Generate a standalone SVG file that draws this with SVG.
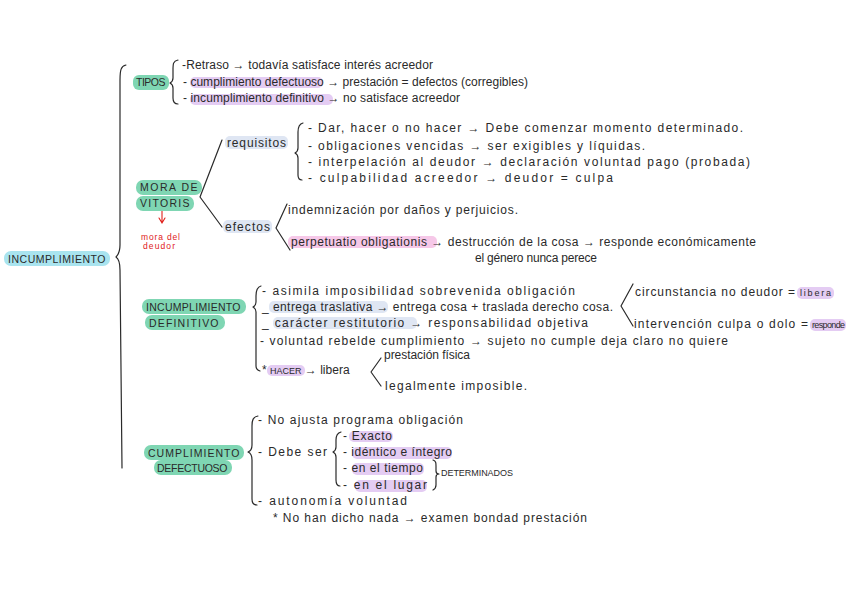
<svg xmlns="http://www.w3.org/2000/svg" width="848" height="599" viewBox="0 0 848 599">
<style>
text{font-family:"Liberation Sans",Arial,sans-serif;font-size:12px;fill:#2a2a2a}
.cap{font-size:10.5px;letter-spacing:0.5px}
.sm{font-size:9px}
.red{fill:#e0201b;font-size:8.5px}
.hg{fill:#7fd6b3}
.hc{fill:#a9e4ef}
.hp{fill:#e4ccf3}
.hk{fill:#f6c8e8}
.hb{fill:#dfe6f3}
.ln{fill:none;stroke:#2a2a2a;stroke-width:1.2;stroke-linecap:round;stroke-linejoin:round}
</style>
<rect width="848" height="599" fill="#ffffff"/>
<g id="connectors">
<path class="ln" d="M126,65 C121,66 120,70 120,80 L120,245 C120,251 119,254 116,257 C119,259 120,262 120,270 L122,468"/>
<path class="ln" d="M178,60 C173,61 173,64 173,70 L173,78 C173,81 172,82 170,83 C172,84 173,85 173,88 L173,98 C173,102 174,104 178,104"/>
<path class="ln" d="M222,140 L200,197 L222,227"/>
<path class="ln" d="M303,123 C299,124 298,127 298,132 L298,148 C298,151 297,152 295,153 C297,154 298,155 298,158 L298,175 C298,178 299,180 302,180"/>
<path class="ln" d="M287,204 L276,228 L290,250"/>
<path class="ln" d="M261,286 C257,287 256,290 256,296 L256,302 C256,305 255,306 253,307 C255,308 256,309 256,312 L256,366 C256,369 257,370 260,371"/>
<path class="ln" d="M633,284 L621,306 L633,326"/>
<path class="ln" d="M381,358 L371,372 L381,386"/>
<path class="ln" d="M258,416 C253,417 252,420 252,426 L252,445 C252,449 251,451 248,452 C251,453 252,455 252,460 L252,499 C252,503 253,505 257,505"/>
<path class="ln" d="M341,432 C337,433 336,436 336,440 L336,447 C336,450 335,451 333,452 C335,453 336,454 336,457 L336,480 C336,484 337,486 340,486"/>
<path class="ln" d="M433,460 C436,461 436,463 436,466 L436,471 C436,473 437,474 439,474 C437,474 436,475 436,477 L436,485 C436,488 435,489 433,490"/>
<path d="M162,211 L162,222 M159,218 L162,223 L165,218" fill="none" stroke="#e0201b" stroke-width="1.1" stroke-linecap="round"/>
</g>
<g id="incumplimiento">
<rect class="hc" x="4" y="251" width="106" height="15" rx="7"/>
<text class="cap" x="8" y="263" textLength="98">INCUMPLIMIENTO</text>
</g>
<g id="tipos">
<rect class="hg" x="133" y="75" width="36" height="15" rx="6"/>
<text class="cap" x="136" y="86" textLength="30">TIPOS</text>
<text x="182" y="69" textLength="251">-Retraso → todavía satisface interés acreedor</text>
<rect class="hp" x="190" y="77" width="133" height="11" rx="5"/>
<text x="183" y="86" textLength="345">- cumplimiento defectuoso → prestación = defectos  (corregibles)</text>
<rect class="hp" x="190" y="94" width="143" height="11" rx="5"/>
<text x="183" y="102" textLength="277">- incumplimiento definitivo → no satisface acreedor</text>
</g>
<g id="mora">
<rect class="hg" x="136" y="180" width="66" height="15" rx="7"/>
<rect class="hg" x="136" y="196" width="58" height="15" rx="7"/>
<text class="cap" x="140" y="191" textLength="58">MORA DE</text>
<text class="cap" x="140" y="207" textLength="50">VITORIS</text>
<text class="red" x="141" y="240" textLength="39">mora del</text>
<text class="red" x="143" y="249" textLength="32">deudor</text>
</g>
<g id="requisitos">
<rect class="hb" x="225" y="136" width="63" height="13" rx="5"/>
<text x="227" y="147" textLength="59">requisitos</text>
<text x="308" y="132" textLength="435">- Dar, hacer o no hacer → Debe comenzar momento determinado.</text>
<text x="308" y="150" textLength="337">- obligaciones vencidas → ser exigibles y líquidas.</text>
<text x="308" y="166" textLength="442">- interpelación al deudor → declaración voluntad pago  (probada)</text>
<text x="308" y="182" textLength="305">- culpabilidad acreedor → deudor = culpa</text>
</g>
<g id="efectos">
<rect class="hb" x="223" y="220" width="49" height="13" rx="5"/>
<text x="225" y="231" textLength="45">efectos</text>
<text x="288" y="214" textLength="230">indemnización por daños y perjuicios.</text>
<rect class="hk" x="288" y="236" width="149" height="12" rx="5"/>
<text x="291" y="246" textLength="465">perpetuatio obligationis → destrucción de la cosa → responde económicamente</text>
<text x="475" y="262" textLength="122">el género nunca perece</text>
</g>
<g id="incumplimiento-definitivo">
<rect class="hg" x="142" y="299" width="104" height="15" rx="7"/>
<rect class="hg" x="145" y="315" width="80" height="15" rx="7"/>
<text class="cap" x="146" y="311" textLength="95">INCUMPLIMIENTO</text>
<text class="cap" x="149" y="327" textLength="70">DEFINITIVO</text>
<text x="262" y="295" textLength="313">- asimila imposibilidad sobrevenida obligación</text>
<rect class="hb" x="269" y="301" width="119" height="12" rx="5"/>
<text x="262" y="311" textLength="351">_ entrega traslativa → entrega cosa + traslada derecho cosa.</text>
<rect class="hb" x="273" y="317" width="144" height="12" rx="5"/>
<text x="262" y="327" textLength="326">_  carácter restitutorio → responsabilidad objetiva</text>
<text x="260" y="345" textLength="468">- voluntad rebelde cumplimiento → sujeto no cumple deja claro no quiere</text>
<rect class="hp" x="267" y="365" width="38" height="11" rx="5"/>
<text x="262" y="374"><tspan>* </tspan><tspan class="sm">HACER</tspan><tspan> → libera</tspan></text>
<text x="384" y="359" textLength="86">prestación física</text>
<text x="385" y="390" textLength="142">legalmente imposible.</text>
<text x="635" y="296" textLength="160">circunstancia no deudor =</text>
<rect class="hp" x="797" y="287" width="37" height="12" rx="5"/>
<text class="sm" x="800" y="296" textLength="31">libera</text>
<text x="634" y="328" textLength="174">intervención culpa o dolo =</text>
<rect class="hp" x="810" y="319" width="36" height="12" rx="5"/>
<text class="sm" x="812" y="328" textLength="33">responde</text>
</g>
<g id="cumplimiento-defectuoso">
<rect class="hg" x="144" y="445" width="100" height="15" rx="7"/>
<rect class="hg" x="154" y="460" width="78" height="15" rx="7"/>
<text class="cap" x="148" y="457" textLength="92">CUMPLIMIENTO</text>
<text class="cap" x="157" y="472" textLength="71">DEFECTUOSO</text>
<text x="258" y="424" textLength="205">- No ajusta programa obligación</text>
<text x="258" y="456" textLength="69">- Debe  ser</text>
<rect class="hp" x="349" y="431" width="44" height="11" rx="5"/>
<text x="343" y="440" textLength="49">- Exacto</text>
<rect class="hp" x="352" y="447" width="100" height="12" rx="5"/>
<text x="343" y="456" textLength="109">- idéntico e íntegro</text>
<rect class="hp" x="352" y="463" width="72" height="12" rx="5"/>
<text x="343" y="472" textLength="80">- en el tiempo</text>
<rect class="hp" x="355" y="480" width="72" height="12" rx="5"/>
<text x="343" y="489" textLength="84">-  en el lugar</text>
<text class="sm" x="441" y="476" textLength="72">DETERMINADOS</text>
<text x="258" y="505" textLength="149">- autonomía voluntad</text>
<text x="273" y="522" textLength="314">* No han dicho nada → examen bondad prestación</text>
</g>
</svg>
